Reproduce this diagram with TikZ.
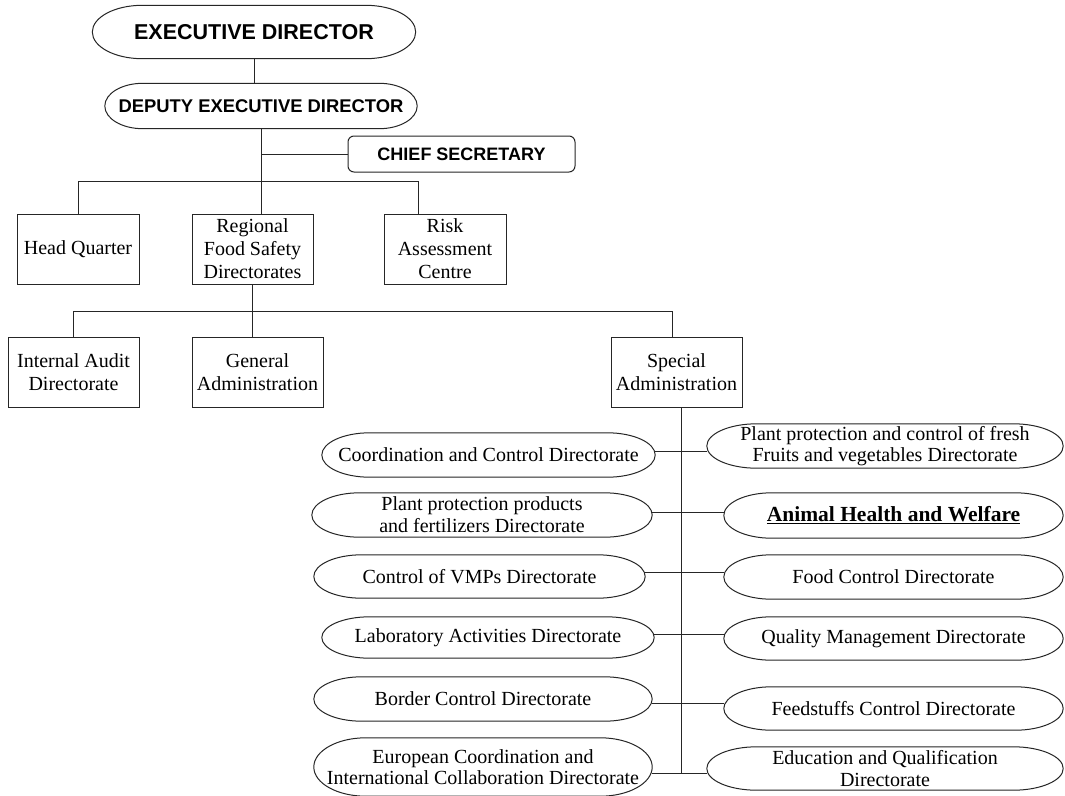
\documentclass[tikz,border=0pt]{standalone}
\usepackage{fontspec}
\setmainfont{Liberation Serif}
\newfontfamily\headfont{Liberation Sans}
\usetikzlibrary{calc}

% frame with elliptic ends round a node
\newcommand{\ovalframe}[2][45]{%
  \draw[rim] let \p1=(#2.north west), \p2=(#2.south east) in
    ($(\x1,\y1)+(#1pt,0pt)$) -- ($(\x2,\y1)+(-#1pt,0pt)$)
    arc[start angle=90, end angle=-90, x radius=#1pt, y radius={(\y1-\y2)/2}]
    -- ($(\x1,\y2)+(#1pt,0pt)$)
    arc[start angle=270, end angle=90, x radius=#1pt, y radius={(\y1-\y2)/2}] -- cycle;}

\begin{document}
\begin{tikzpicture}[x=1pt, y=1pt,
  rim/.style={draw=black!85, line width=1pt},
  wire/.style={draw=black!85, line width=1pt},
  oval/.style={inner sep=0pt, align=center, font=\fontsize{20}{21.7}\selectfont},
  unit/.style={rim, inner sep=0pt, align=center, minimum height=70pt, font=\fontsize{20}{23}\selectfont},
  head/.style={font=\headfont\bfseries\fontsize{#1}{#1}\selectfont}]

\useasboundingbox (0,0) rectangle (1065,-795);
\fill[white] (0,0) rectangle (1065,-795);

% Top management
\node[oval, head=21.5, minimum width=323pt, minimum height=53pt] (exec) at (254,-32) {EXECUTIVE DIRECTOR};
\node[oval, head=18.4, minimum width=312pt, minimum height=45pt] (deputy) at (261,-106) {DEPUTY EXECUTIVE DIRECTOR};
\node[rim, rounded corners=6pt, head=18, minimum width=227pt, minimum height=36pt] (chief) at (461.5,-154) {CHIEF SECRETARY};

% First level units
\node[unit, minimum width=122pt] (hq) at (78,-249) {Head Quarter};
\node[unit, minimum width=121pt] (reg) at (252.5,-249) {Regional\\Food Safety\\Directorates};
\node[unit, minimum width=122pt] (risk) at (445,-249) {Risk\\Assessment\\Centre};

% Second level units
\node[unit, minimum width=131pt] (ia) at (73.5,-372) {Internal Audit\\Directorate};
\node[unit, minimum width=131pt] (ga) at (257.5,-372) {General\\Administration};
\node[unit, minimum width=131pt] (sa) at (676.5,-372) {Special\\Administration};

% Directorates, left column
\node[oval, minimum width=333pt, minimum height=44pt] (coord) at (488.5,-455) {Coordination and Control Directorate};
\node[oval, minimum width=340pt, minimum height=44pt] (ppp) at (482,-515) {Plant protection products\\and fertilizers Directorate};
\node[oval, minimum width=331pt, minimum height=43pt] (vmp) at (479.5,-576.5) {Control of VMPs Directorate};
\node[oval, minimum width=332pt, minimum height=41pt] (lab) at (488,-637.5) {Laboratory Activities Directorate};
\node[oval, minimum width=338pt, minimum height=44pt] (border) at (483,-699) {Border Control Directorate};
\node[oval, minimum width=338pt, minimum height=58pt] (euro) at (483,-767) {European Coordination and\\International Collaboration Directorate};

% Directorates, right column
\node[oval, minimum width=356pt, minimum height=44pt] (fresh) at (885,-446) {Plant protection and control of fresh\\Fruits and vegetables Directorate};
\node[oval, font=\bfseries\fontsize{21.5}{23}\selectfont, minimum width=339pt, minimum height=45pt] (ahw) at (893.5,-515.5) {\underline{Animal Health and Welfare}};
\node[oval, minimum width=339pt, minimum height=44pt] (food) at (893.5,-577) {Food Control Directorate};
\node[oval, minimum width=339pt, minimum height=43pt] (qm) at (893.5,-638.5) {Quality Management Directorate};
\node[oval, minimum width=339pt, minimum height=43pt] (feed) at (893.5,-708.5) {Feedstuffs Control Directorate};
\node[oval, minimum width=356pt, minimum height=43pt] (edu) at (885,-768.5) {Education and Qualification\\Directorate};

\foreach \nd/\rx in {exec/50, deputy/38, coord/48, ppp/48, vmp/48, lab/48, border/48, euro/52,
  fresh/50, ahw/48, food/48, qm/48, feed/48, edu/50}
  \ovalframe[\rx]{\nd};

% Connectors
\coordinate (riskdrop) at (418,-181);
\coordinate (sadrop) at (672,-311);
\coordinate (spine) at (681,-773);
\draw[wire] (exec.south) -- (exec.south |- deputy.north);
\draw[wire] (deputy.south) -- (deputy.south |- reg.north);
\draw[wire] (deputy.south |- chief.west) -- (chief.west);
\draw[wire] (hq.north) |- (riskdrop) -- (riskdrop |- risk.north);
\draw[wire] (reg.south) -- (reg.south |- ga.north);
\draw[wire] (ia.north) |- (sadrop) -- (sadrop |- sa.north);
\draw[wire] (spine |- sa.south) -- (spine);
\foreach \lft/\rgt/\yy in {coord/fresh/451, ppp/ahw/512, vmp/food/572, lab/qm/634, border/feed/703, euro/edu/773}
  \draw[wire] (\lft.east |- 0,-\yy) -- (\rgt.west |- 0,-\yy);

\end{tikzpicture}
\end{document}
